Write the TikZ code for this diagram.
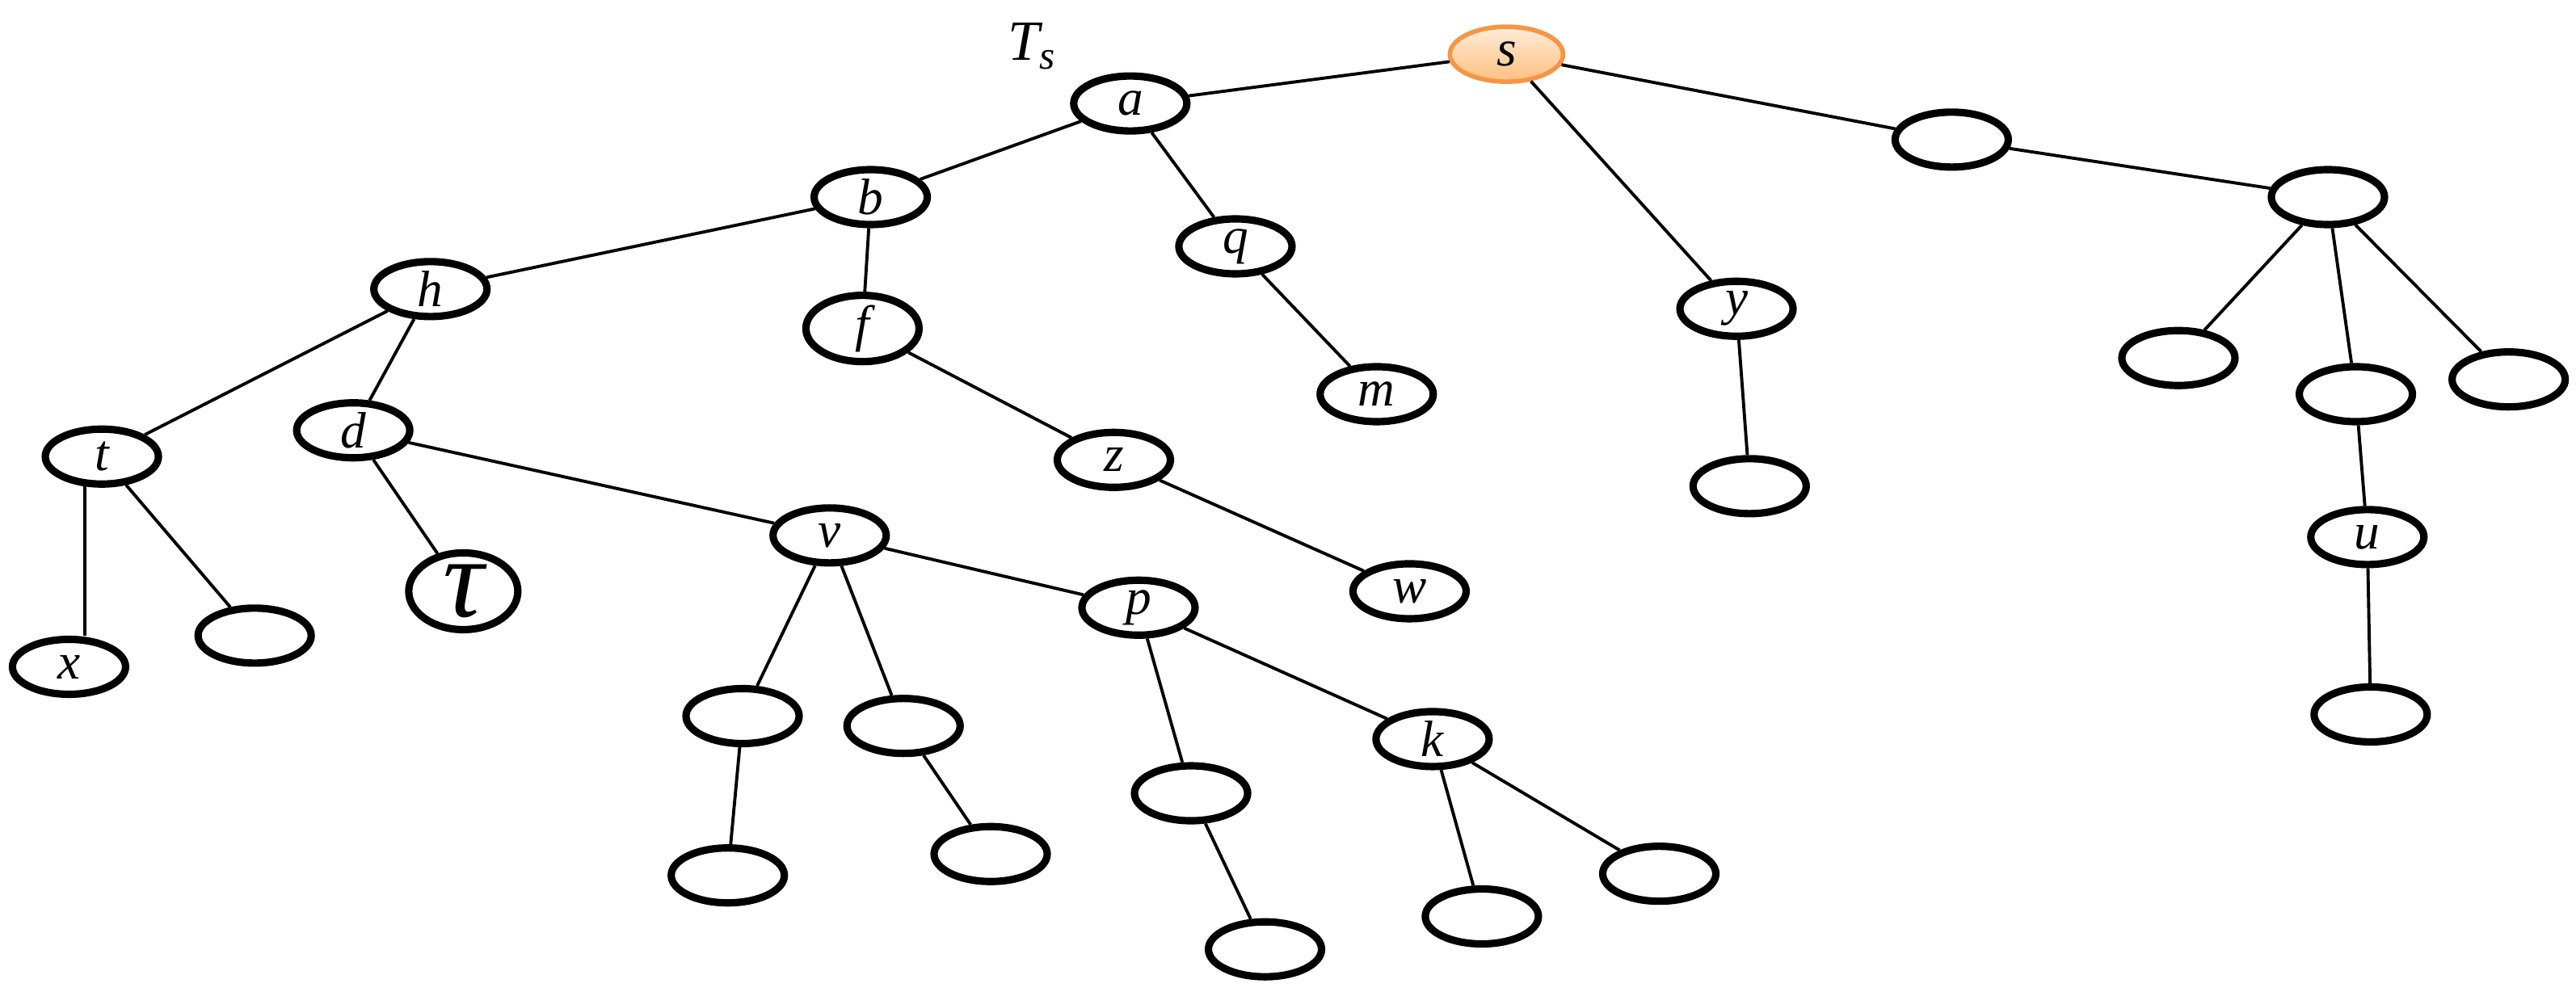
\documentclass[tikz,border=0pt]{standalone}
\usepackage{fontspec}
\setmainfont{Liberation Serif}
\usetikzlibrary{shapes.geometric}
\definecolor{sline}{RGB}{245,150,70}
\begin{document}
\begin{tikzpicture}[x={(0.02033cm,0)},y={(0,-0.02033cm)},
  nd/.style={ellipse,draw,line width=2.6pt,minimum width=1.4cm,minimum height=0.68cm,inner sep=0pt,font=\fontsize{18}{18}\selectfont\itshape},
  ed/.style={line width=1.1pt}]
\useasboundingbox (0,0) rectangle (1568,606);
\node[font=\fontsize{20}{20}\selectfont\itshape] (Ts) at (628,28) {T\raisebox{-0.35ex}{\fontsize{14}{14}\selectfont s}};
\node[nd,draw=sline,line width=1.6pt,top color=orange!15,bottom color=orange!50] (s) at (917,33) {s};
\node[nd] (a) at (688,63) {a};
\node[nd] (b) at (530,120) {b};
\node[nd] (q) at (752,150) {q};
\node[nd] (f) at (525,200) {f};
\node[nd] (h) at (262,176) {h};
\node[nd] (m) at (838,240) {m};
\node[nd] (z) at (678,280) {z};
\node[nd] (w) at (858,360) {w};
\node[nd] (t) at (62,278) {t};
\node[nd] (x) at (42,406) {x};
\node[nd] (tl) at (155,387) {};
\node[nd] (d) at (215,262) {d};
\node[nd,minimum width=1.35cm,minimum height=0.95cm,font=\fontsize{40}{40}\selectfont\itshape] (tau) at (282,360) {τ};
\node[nd] (v) at (505,326) {v};
\node[nd] (p) at (693,370) {p};
\node[nd] (v1) at (452,436) {};
\node[nd] (v2) at (550,442) {};
\node[nd] (v1c) at (443,533) {};
\node[nd] (v2c) at (603,520) {};
\node[nd] (p1) at (725,483) {};
\node[nd] (p1c) at (770,578) {};
\node[nd] (k) at (872,450) {k};
\node[nd] (k1) at (902,558) {};
\node[nd] (k2) at (1010,532) {};
\node[nd] (y) at (1057,188) {y};
\node[nd] (yc) at (1065,296) {};
\node[nd] (r1) at (1188,85) {};
\node[nd] (r2) at (1417,120) {};
\node[nd] (r2a) at (1326,218) {};
\node[nd] (r2b) at (1434,240) {};
\node[nd] (r2c) at (1527,231) {};
\node[nd] (u) at (1441,327) {u};
\node[nd] (uc) at (1443,435) {};
\foreach \p/\c in {s/a,s/y,s/r1,r1/r2,r2/r2a,r2/r2b,r2/r2c,r2b/u,u/uc,y/yc,a/b,a/q,q/m,b/f,b/h,f/z,z/w,h/t,h/d,t/tl,d/tau,d/v,v/v1,v/v2,v/p,v1/v1c,v2/v2c,p/p1,p/k,p1/p1c,k/k1,k/k2}
  \draw[ed] (\p) -- (\c);
\draw[ed] (t.240) -- (t.240 |- x.north);
\end{tikzpicture}
\end{document}
